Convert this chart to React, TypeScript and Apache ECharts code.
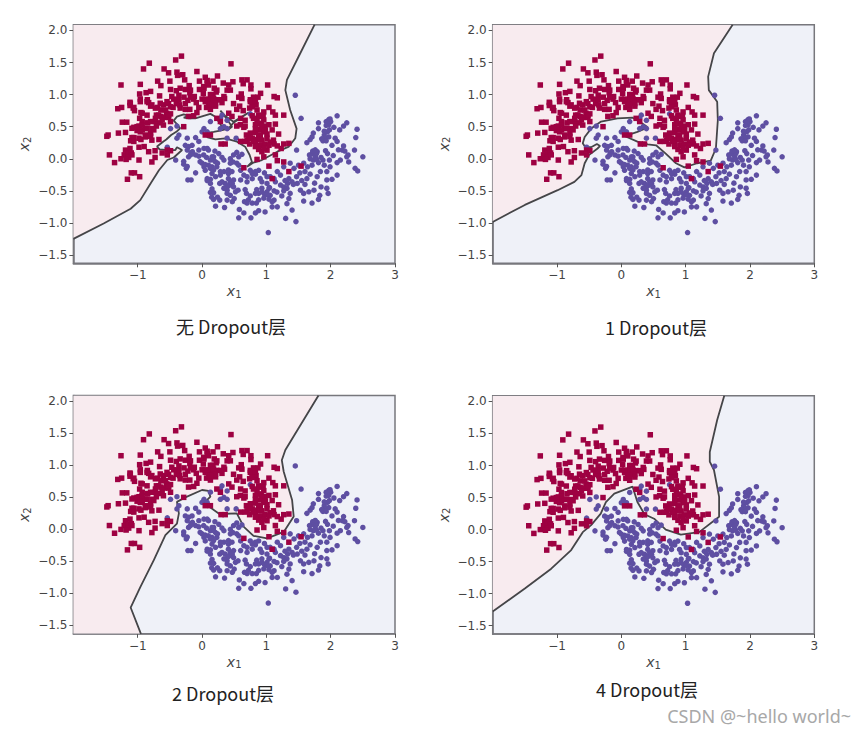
import React, { useEffect, useRef } from "react";
import * as echarts from "echarts";

const redPoints: number[][] = [
[-0.32,1.60],[-0.41,1.54],[-0.82,1.49],[0.45,1.48],[-0.91,1.40],[-0.59,1.40],[-0.52,1.34],[-0.39,1.35],[-0.38,1.30],[-0.30,1.31],[-0.08,1.36],[-1.26,1.15],[-0.69,1.21],[-0.50,1.21],[-0.96,1.16],[-0.64,1.14],[-0.27,1.23],[0.05,1.27],[0.24,1.29],[-0.04,1.21],[0.08,1.22],[0.17,1.21],[0.33,1.18],[0.48,1.20],[0.62,1.23],[0.70,1.23],[0.64,1.17],[0.76,1.15],[1.02,1.15],[0.76,1.09],
[-0.97,1.01],[-0.87,1.03],[-0.80,1.05],[-0.66,0.98],[-0.49,1.08],[-0.40,1.06],[-0.26,1.08],[-0.19,1.03],[-0.36,0.99],[-0.28,0.96],[-0.12,0.97],[-0.04,1.08],[0.03,1.10],[0.19,1.10],[0.22,1.04],[0.39,1.07],[0.61,1.01],[0.91,1.02],[0.80,0.96],[0.87,0.96],[1.12,0.97],[1.17,0.95],[-0.96,0.93],[-1.12,0.88],[-0.85,0.92],[0.10,1.15],[0.02,1.02],[0.17,1.00],[-0.20,1.14],[-0.34,1.10],
[-1.31,0.78],[-1.25,0.80],[-1.12,0.83],[-1.07,0.79],[-1.05,0.75],[-0.95,0.72],[-0.83,0.875],[-0.78,0.84],[-0.69,0.80],[-0.60,0.84],[-0.52,0.86],[-0.44,0.93],[-0.38,0.92],[-0.35,0.84],[-0.26,0.86],[-0.22,0.91],[-0.26,0.77],[-0.19,0.77],[-0.09,0.875],[-0.05,0.80],[-0.08,0.72],[0.05,0.89],[0.13,0.92],[0.18,0.875],[0.23,0.92],[0.35,0.94],[0.31,0.875],[0.07,0.80],[0.21,0.82],[0.13,0.77],[0.57,0.96],[0.585,0.82],[0.54,0.77],[0.64,0.75],[0.75,0.92],[0.78,0.85],[0.84,0.84],[0.74,0.79],[1.04,0.80],[0.96,0.73],[1.10,0.73],[1.27,0.68],[1.14,0.68],[-0.64,0.76],[-0.55,0.71],[-0.49,0.70],[-0.71,0.68],[-0.64,0.66],[-0.585,0.645],[-0.52,0.645],[-0.45,0.80],[-0.40,0.86],[-0.13,0.93],[0.10,0.84],[0.00,0.93],
[-1.24,0.57],[-1.17,0.57],[-0.97,0.63],[-0.93,0.58],[-0.845,0.56],[-0.725,0.58],[-0.65,0.56],[-0.71,0.51],[-0.78,0.47],[-0.98,0.51],[-1.06,0.49],[-1.01,0.44],[-0.93,0.45],[-0.88,0.47],[-0.80,0.40],[-1.30,0.40],[-1.19,0.41],[-1.48,0.35],[-1.46,0.37],[-1.09,0.33],[-1.11,0.28],[-0.98,0.32],[-0.88,0.37],[-0.78,0.29],[-0.67,0.30],[-1.06,0.27],[-0.95,0.30],[-0.21,0.66],[-0.13,0.67],[-0.285,0.50],[0.60,0.63],[0.67,0.60],[0.54,0.51],[0.65,0.49],[0.78,0.67],[0.88,0.68],[0.95,0.66],[0.855,0.60],[0.92,0.55],[0.83,0.53],[0.98,0.51],[1.14,0.54],[0.90,0.46],[0.96,0.42],[0.83,0.41],[0.75,0.40],[0.69,0.37],[0.88,0.37],[1.01,0.385],[1.19,0.385],[0.05,0.37],
[0.70,0.29],[0.78,0.32],[0.855,0.30],[0.93,0.29],[1.01,0.32],[1.11,0.29],[0.74,0.23],[0.83,0.24],[0.91,0.21],[0.98,0.23],[1.12,0.23],[1.27,0.23],[1.35,0.24],[1.23,0.16],[1.17,0.20],[0.88,0.145],[0.93,0.11],[1.01,0.135],[1.14,0.06],[0.96,0.03],[0.855,-0.01],[0.60,0.27],[0.295,0.23],[0.36,0.23],[1.17,-0.03],[1.27,-0.05],[1.04,-0.115],[0.65,-0.14],[1.35,-0.20],[1.54,-0.115],[1.09,-0.31],
[-1.44,0.06],[-1.36,-0.06],[-1.26,0],[-1.21,0.06],[-1.19,0.135],[-1.12,0.16],[-1.15,0.08],[-1.10,0.09],[-1.14,0.02],[-1.09,0.06],[-1.18,-0.01],[-0.98,-0.02],[-0.98,0.18],[-0.90,0.19],[-0.83,0.11],[-0.73,0.125],[-0.73,0.02],[-0.78,-0.05],[-0.62,0.09],[-0.54,0.135],[-0.49,0.125],[-0.54,0.06],[-1.10,-0.22],[-1.05,-0.22],[-0.97,-0.28],[-1.16,-0.32],
[-1.115,0.865],[-1.06,0.80],[-0.96,0.89],[-0.855,0.89],[-0.80,0.82],[-0.725,0.79],[-0.65,0.865],[-0.545,0.89],[-0.47,0.97],[-0.36,0.92],[-0.18,1.07],[-0.18,0.96],[-0.34,0.79],[-0.49,0.81],[-0.93,0.71],[-0.855,0.68],[-0.675,0.68],[-0.57,0.76],[-0.725,0.63],[-0.62,0.605],[-0.52,0.68],[-0.80,0.58],[-0.93,0.525],[-1.01,0.50],[-0.855,0.475],[-0.75,0.45],[-0.96,0.42],[-1.09,0.475],[-1.06,0.33],[-0.88,0.34],[-0.80,0.35],[-0.60,0.525],[-0.49,0.58],
[0.025,1.125],[0.08,1.18],[0.13,1.0],[0.18,0.94],[0.21,0.86],[0.285,0.92],[0.05,0.93],[0.13,0.84],[0.34,0.97],[0.23,1.07],[0.44,1.07],[0.415,1.15],[0.62,0.94],[0.75,0.89],[0.83,0.90],[0.78,0.81],[0.855,0.76],[0.88,0.66],[0.80,0.63],[0.96,0.605],[0.88,0.55],[0.83,0.47],[0.93,0.50],[1.04,0.53],[1.09,0.45],[0.725,0.34],[0.80,0.27],[0.905,0.37],[0.985,0.44],[0.67,0.27],[0.75,0.32],[0.83,0.19],[0.905,0.30],[1.06,0.26],[1.04,0.21],[0.96,0.16],[0.415,0.71],[0.465,0.66],[0.285,0.58],[0.23,0.63],[0.595,0.53],[0.67,0.51],[0.13,0.37],[0.49,0.86],
];

const bluePoints: number[][] = [
[1.45,0.99],[1.54,0.63],[2.10,0.67],[1.97,0.61],[1.93,0.58],[2.00,0.58],[1.97,0.53],[1.81,0.56],[1.81,0.47],[1.73,0.40],[1.71,0.34],[1.90,0.37],[1.95,0.42],[1.92,0.32],[1.88,0.28],[1.97,0.34],[2.05,0.49],[2.14,0.45],[2.20,0.51],[2.25,0.56],[2.41,0.46],[2.39,0.33],[2.37,0.135],[2.50,0.03],[2.27,0.06],[2.20,0.20],[2.18,0.135],[2.10,0.27],[2.07,0.32],[2.02,0.21],[1.92,0.125],[1.95,0.08],[1.79,0.11],[1.71,0.08],[1.67,0.06],[1.76,0.04],[1.63,0.25],[1.68,0.30],[1.47,0.135],[2.25,0.03],[2.15,-0.02],[2.10,-0.06],[2.28,-0.05],[2.38,-0.15],[2.42,-0.19],[1.99,-0.125],[1.94,-0.2],[1.88,-0.02],[1.81,-0.06],[1.73,-0.02],[1.71,-0.10],[1.64,-0.125],[1.58,-0.07],[2.10,-0.255],[2.02,-0.32],[1.94,-0.33],[1.84,-0.20],[1.79,-0.28],[1.68,-0.24],[1.63,-0.31],[1.55,-0.34],[1.48,-0.385],[1.40,-0.36],[1.33,-0.385],[1.27,-0.44],[1.22,-0.41],[1.14,-0.36],[0.93,-0.36],[1.01,-0.385],[1.32,-0.46],[1.37,-0.54],[1.35,-0.62],[1.32,-0.70],[1.53,-0.49],[1.58,-0.54],[1.66,-0.515],[1.74,-0.49],[1.85,-0.44],[1.94,-0.46],[1.96,-0.54],[1.83,-0.57],[1.81,-0.635],[1.71,-0.69],[1.58,-0.66],[1.40,-0.80],[1.30,-0.93],[1.46,-0.98],[1.03,-1.15],[1.17,-0.75],[1.09,-0.75],[1.12,-0.645],[1.06,-0.57],[1.01,-0.515],[0.93,-0.515],[0.88,-0.54],[0.97,-0.55],[1.09,-0.67],[0.83,-0.54],[0.75,-0.58],[0.845,-0.69],[0.70,-0.69],[0.66,-0.67],[0.69,-0.54],[0.52,-0.515],[0.39,-0.49],[0.43,-0.41],[0.36,-0.385],[0.275,-0.385],[0.13,-0.525],[0.18,-0.53],[0.39,-0.54],[0.18,-0.635],[0.275,-0.645],[0.47,-0.67],[0.21,-0.74],[0.35,-0.76],[0.58,-0.79],[0.65,-0.845],[0.57,-0.92],[0.76,-0.92],[0.83,-0.845],[0.88,-0.81],[0.98,-0.83],
[-0.41,-0.02],[-0.285,-0.085],[-0.245,-0.15],[-0.10,-0.22],[-0.22,-0.33],[-0.17,-0.33],[0,-0.07],[0.03,-0.125],[0.08,-0.31],[0.13,-0.32],[0.05,-0.18],[0.155,-0.23],[0.21,-0.28],[0.285,-0.255],[0.41,-0.23],[0.34,-0.20],[0.49,-0.33],[0.60,-0.33],[0.65,-0.255],[0.70,-0.28],[0.78,-0.31],[0.83,-0.24],[0.75,-0.18],[0.88,-0.18],[0.97,-0.22],[1.06,-0.28],[1.17,-0.20],[1.22,-0.255],[1.27,-0.125],[1.37,-0.07],[1.43,-0.15],[1.50,-0.10],[1.35,-0.31],[0.44,-0.36],[0.40,-0.43],[1.05,-0.45],[1.12,-0.50],[1.27,-0.50],[1.42,-0.40],[1.60,-0.40],
[-0.26,0.21],[-0.21,0.19],[-0.155,0.21],[-0.23,0.135],[-0.17,0.09],[-0.10,0.06],[-0.21,0.03],[-0.05,0.04],[0.03,0.16],[0.10,0.135],[-0.10,0.33],[-0.05,0.27],[-0.23,0.32],[-0.39,0.32],[-0.49,0.47],[-0.39,0.51],[-0.54,0.18],[-0.36,0.37],[0.03,0.47],[0.08,0.42],[0,0.42],[0.13,0.58],[0.31,0.68],[0.285,0.63],[0.39,0.60],[0.34,0.50],[0.39,0.47],[0.285,0.47],[0.53,0.32],[0.39,0.32],[0.75,0.70],[0.18,0.03],[0.26,0.08],[0.34,-0.02],[0.21,-0.05],[0.13,-0.02],[0.155,-0.125],[0.23,-0.125],[0.49,0.06],[0.57,0.03],[0.44,-0.07],[0.54,-0.07],[0.60,-0.18],[0.48,-0.05],[0.20,0.12],[0.10,-0.10],[0.07,0.02],
[-0.15,0.11],[-0.18,0.06],[-0.05,0.136],[0.025,0.06],[0.08,0.16],[0.155,0.03],[0.18,-0.02],[-0.03,-0.045],[0.05,-0.09],[0.13,-0.15],[0.18,-0.175],[0.24,-0.07],[0.31,0.02],[0.44,0.0],[0.41,-0.175],[0.465,-0.2],[0.54,0.1],[0.57,-0.10],[0.62,0.07],[0.285,-0.20],[0.08,-0.34],[-0.285,-0.04],[-0.23,-0.12],[0.13,-0.385],[0.31,-0.36],[0.41,-0.31],[0.47,-0.385],[0.34,-0.46],[0.49,-0.44],[0.56,-0.49],[0.44,-0.57],[0.70,-0.36],[0.78,-0.23],[0.83,-0.2],[0.905,-0.31],[0.85,-0.48],[0.93,-0.46],[1.04,-0.46],[1.01,-0.56],[1.12,-0.31],[1.165,-0.52],[0.67,-0.48],[0.72,-0.64],[0.78,-0.69],[0.15,-0.60],[0.24,-0.60],[0.155,-0.47],[0.50,-0.62],[0.39,-0.645],[0.88,-0.64],[0.96,-0.615],[1.04,-0.63],[1.24,-0.58],[1.29,-0.34],[1.01,-0.28],
[1.95,0.57],[1.99,0.62],[1.93,0.52],[1.98,0.45],[1.90,0.43],[1.86,0.31],[1.93,0.28],[1.78,0.08],[1.72,0.12],[1.76,0.14],[1.68,0.0],[1.78,-0.01],[1.85,0.02],[1.98,-0.02],[2.04,0.05],[2.12,0.14],[2.22,0.12],[1.90,-0.10],[1.60,-0.20],[1.52,-0.22],[1.47,-0.28],[1.75,-0.38],
];

const boundaryNone: number[][] = [
[-2,-1.25],[-1.53,-1.01],[-1.11,-0.78],[-0.96,-0.645],[-0.80,-0.385],[-0.67,-0.18],[-0.54,-0.02],[-0.44,0.02],[-0.31,0.136],[-0.39,0.18],[-0.415,0.136],[-0.52,0.136],[-0.66,0.146],[-0.70,0.19],[-0.60,0.27],[-0.556,0.30],[-0.48,0.37],[-0.40,0.42],[-0.34,0.475],[-0.39,0.54],[-0.44,0.594],[-0.39,0.656],[-0.285,0.693],[-0.20,0.67],[-0.285,0.64],[-0.207,0.63],[-0.104,0.63],[0.025,0.67],[0.13,0.70],[0.207,0.656],[0.26,0.578],[0.327,0.475],[0.414,0.46],[0.466,0.50],[0.378,0.63],[0.285,0.75],[0.36,0.667],[0.49,0.578],[0.725,0.72],[0.49,0.563],[0.414,0.475],[0.285,0.438],[0.18,0.42],[0.036,0.396],[0.088,0.334],[0.207,0.302],[0.36,0.318],[0.544,0.266],[0.67,0.188],[0.74,0.058],[0.776,-0.05],[0.70,-0.125],[0.80,-0.06],[0.93,-0.02],[1.17,0.11],[1.35,0.19],[1.45,0.32],[1.47,0.47],[1.37,0.76],[1.295,1.07],[1.32,1.23],[1.50,1.59],[1.75,2.09],
];
const boundaryOne: number[][] = [
[-2,-0.985],[-1.50,-0.72],[-0.99,-0.49],[-0.73,-0.36],[-0.62,-0.255],[-0.57,-0.07],[-0.50,0.06],[-0.37,0.16],[-0.33,0.2],[-0.38,0.23],[-0.47,0.18],[-0.56,0.18],[-0.60,0.24],[-0.57,0.34],[-0.47,0.47],[-0.315,0.58],[-0.06,0.63],[0.175,0.64],[0.28,0.58],[0.41,0.49],[0.25,0.42],[0.05,0.354],[0.25,0.266],[0.41,0.224],[0.54,0.21],[0.69,0.08],[0.85,-0.07],[0.98,-0.135],[1.18,-0.07],[1.39,-0.03],[1.47,0.16],[1.50,0.60],[1.49,0.89],[1.36,1.07],[1.35,1.28],[1.44,1.645],[1.73,2.09],
];
const boundaryTwo: number[][] = [
[-0.95,-1.63],[-1.11,-1.22],[-0.96,-0.90],[-0.75,-0.48],[-0.57,-0.09],[-0.39,0.09],[-0.36,0.25],[-0.39,0.43],[-0.26,0.50],[0,0.615],[0.10,0.60],[0.13,0.51],[0.03,0.41],[0.13,0.34],[0.27,0.24],[0.54,0.25],[0.65,0.04],[0.80,-0.10],[1.01,-0.14],[1.27,-0.04],[1.425,0.2],[1.40,0.46],[1.27,0.90],[1.24,1.08],[1.295,1.24],[1.81,2.09],
];
const boundaryFour: number[][] = [
[-2,-1.28],[-1.50,-0.92],[-1.09,-0.61],[-0.78,-0.32],[-0.60,-0.04],[-0.47,0.07],[-0.32,0.25],[-0.24,0.43],[-0.11,0.56],[0.175,0.67],[0.25,0.43],[0.36,0.24],[0.51,0.17],[0.69,0],[0.925,-0.08],[1.21,-0.04],[1.52,0.20],[1.52,0.51],[1.44,0.93],[1.375,1.06],[1.375,1.21],[1.49,1.71],[1.60,2.09],
];

const xTicks = [-1, 0, 1, 2, 3];
const yTicks = [-1.5, -1, -0.5, 0, 0.5, 1, 1.5, 2];
const X_MIN = -2, X_MAX = 3, Y_MIN = -1.63, Y_MAX = 2.09;

const panels = [
  { caption: "无 Dropout层", boundary: boundaryNone, left: 73.4, top: 24.7, width: 321.6, height: 238.6, cx: 231, cy: 326 },
  { caption: "1 Dropout层", boundary: boundaryOne, left: 492.7, top: 24.7, width: 321.6, height: 238.6, cx: 656, cy: 327 },
  { caption: "2 Dropout层", boundary: boundaryTwo, left: 73.4, top: 395.5, width: 321.6, height: 238.3, cx: 223, cy: 693 },
  { caption: "4 Dropout层", boundary: boundaryFour, left: 492.7, top: 395.7, width: 321.6, height: 238.3, cx: 647, cy: 689 },
];

const RED = "#9e0142";
const BLUE = "#5e4fa2";
const PINK = "#f8ebef";
const PALE = "#eff1f8";
const FONT = "'DejaVu Sans', sans-serif";
const CJK = "'Noto Sans CJK SC', 'Noto Sans', sans-serif";

const fmt = (v: number) => v.toFixed(1).replace("-", "\u2212");

function buildOption() {
  const grid: any[] = [], xAxis: any[] = [], yAxis: any[] = [], series: any[] = [], graphic: any[] = [];
  panels.forEach((p, i) => {
    grid.push({
      left: p.left, top: p.top, width: p.width, height: p.height, show: true,
      backgroundColor: PALE, borderColor: "#77777c", borderWidth: 1.5, containLabel: false,
    });
    const axisLine = { onZero: false, lineStyle: { color: "#77777c", width: 1.5 } };
    const axisTick = { length: 4, lineStyle: { color: "#555", width: 1 } };
    const rich = {
      i: { fontFamily: FONT, fontStyle: "italic", fontSize: 14, color: "#444" },
      s: { fontFamily: FONT, fontSize: 10, color: "#444", verticalAlign: "bottom", padding: [6, 0, 0, 0] },
    };
    xAxis.push({
      type: "value", gridIndex: i, min: X_MIN, max: X_MAX, splitLine: { show: false },
      axisLine,
      axisTick: { ...axisTick, customValues: xTicks },
      axisLabel: { customValues: xTicks, color: "#444", fontSize: 12, fontFamily: FONT, margin: 6,
        formatter: (v: number) => String(v).replace("-", "\u2212") },
      name: "{i|x}{s|1}", nameLocation: "middle", nameGap: 20,
      nameTextStyle: { rich },
    });
    yAxis.push({
      type: "value", gridIndex: i, min: Y_MIN, max: Y_MAX, splitLine: { show: false },
      axisLine,
      axisTick: { ...axisTick, customValues: yTicks },
      axisLabel: { customValues: yTicks, color: "#444", fontSize: 12, fontFamily: FONT, margin: 6, formatter: fmt },
      name: "{i|x}{s|2}", nameLocation: "middle", nameGap: 41, nameRotate: 90,
      nameTextStyle: { rich },
    });
    const first = p.boundary[0];
    const region = first[0] <= X_MIN
      ? [...p.boundary, [X_MIN, Y_MAX]]
      : [...p.boundary, [X_MIN, Y_MAX], [X_MIN, Y_MIN]];
    series.push({
      type: "custom", xAxisIndex: i, yAxisIndex: i, silent: true, z: 1, clip: true,
      data: [[X_MIN, Y_MIN]],
      renderItem: (_: any, api: any) => ({
        type: "polygon",
        shape: { points: region.map((pt) => api.coord(pt)) },
        style: { fill: PINK, stroke: "none" },
      }),
    });
    series.push({
      type: "line", xAxisIndex: i, yAxisIndex: i, data: p.boundary, symbol: "none", silent: true, z: 2,
      lineStyle: { color: "#454548", width: 1.8 },
    });
    series.push({
      type: "scatter", xAxisIndex: i, yAxisIndex: i, data: bluePoints, symbol: "circle", symbolSize: 5.5, silent: true, z: 3,
      itemStyle: { color: BLUE, opacity: 1 },
    });
    series.push({
      type: "scatter", xAxisIndex: i, yAxisIndex: i, data: redPoints, symbol: "rect", symbolSize: 5.5, silent: true, z: 3,
      itemStyle: { color: RED, opacity: 1 },
    });
    graphic.push({
      type: "text", x: p.cx, y: p.cy,
      style: { text: p.caption, fontFamily: CJK, fontSize: 18, fill: "#222", textAlign: "center", textVerticalAlign: "middle" },
    });
  });
  graphic.push({
    type: "text", x: 851, y: 716,
    style: { text: "CSDN @~hello world~", fontFamily: "'Noto Sans', sans-serif", fontSize: 18, fill: "#a8a8a8", textAlign: "right", textVerticalAlign: "middle" },
  });
  return { animation: false, backgroundColor: "#ffffff", grid, xAxis, yAxis, series, graphic };
}

export default function App() {
  const ref = useRef<HTMLDivElement>(null);
  useEffect(() => {
    const chart = echarts.init(ref.current!, undefined, { renderer: "svg" });
    chart.setOption(buildOption() as any);
    return () => chart.dispose();
  }, []);
  return <div ref={ref} style={{ position: "absolute", left: 0, top: 0, width: 865, height: 733 }} />;
}
